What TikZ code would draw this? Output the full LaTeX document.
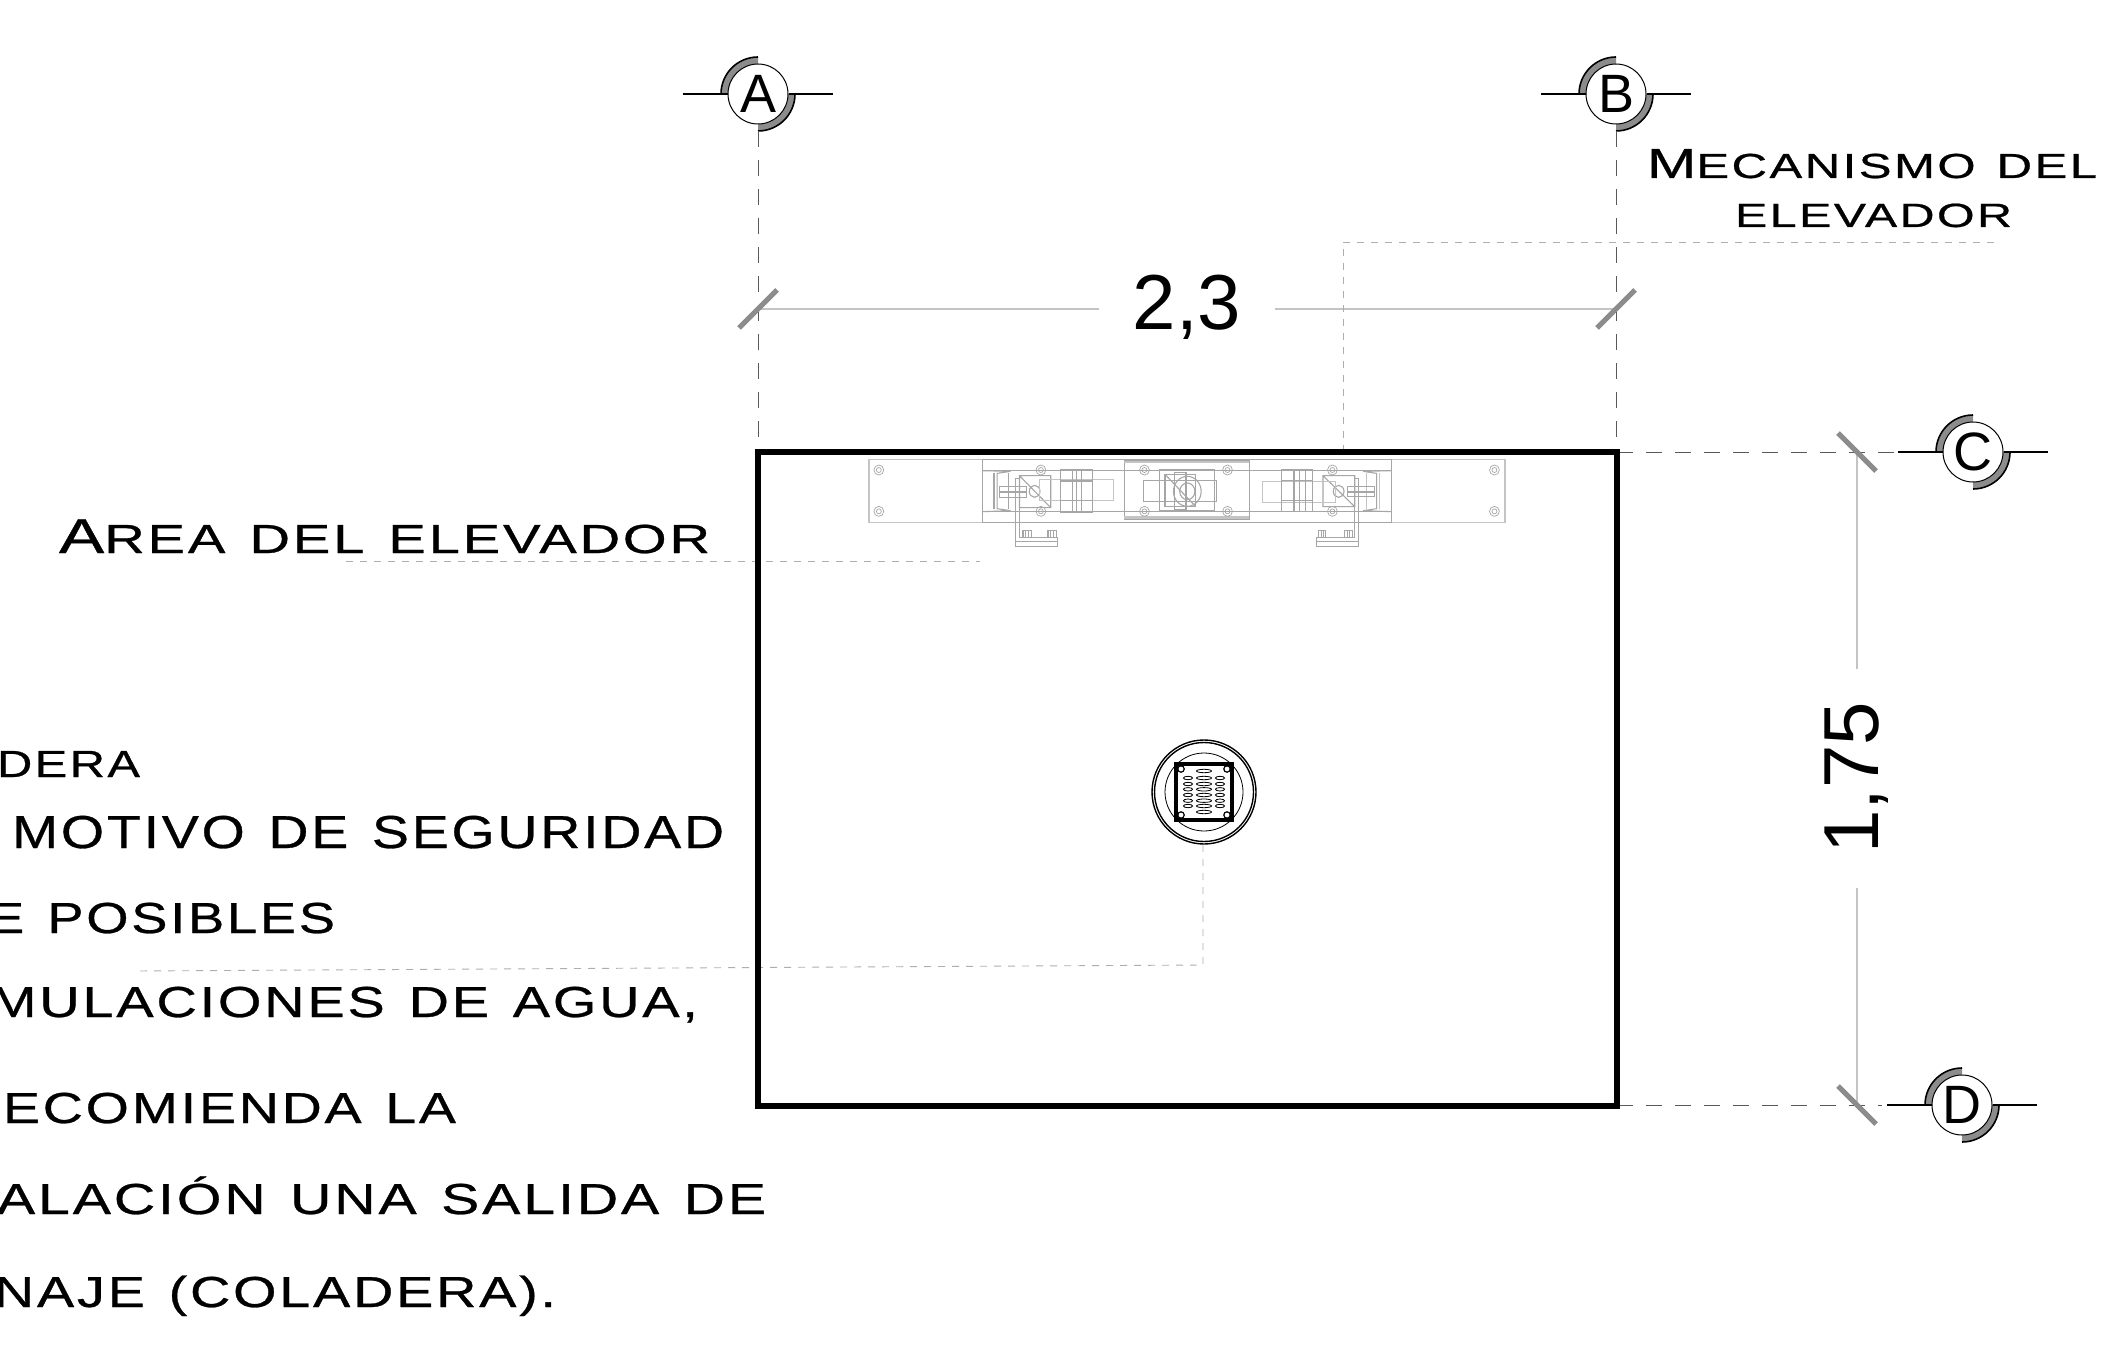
\documentclass[tikz,border=0pt]{standalone}
\usepackage{fontspec}
\usepackage{graphicx}
\setmainfont{Liberation Sans}
\newfontfamily\bankfont[LetterSpace=5,WordSpace=1.3,FakeBold=0.6]{Liberation Sans}
\definecolor{mech}{HTML}{A6A6A6}
\definecolor{mechl}{HTML}{C4C4C4}
\definecolor{tick}{HTML}{8C8C8C}
\definecolor{lead}{HTML}{AEAEAE}
% baseline-placed, exactly sized label: name, x, baseline y, width px, cap height px, text
\newcommand{\lbl}[6]{\node[lbltxt] (#1) at (#2,#3) {\resizebox{\dimexpr #4pt/2\relax}{\dimexpr #5pt/2\relax}{\rule{0pt}{10pt}\smash{\bankfont\fontsize{14}{14}\selectfont #6}}};}
\newcommand{\secmark}[4]{%
  \coordinate (#1c) at (#2,#3);
  \coordinate (#1l) at ($(#1c)+(-75,0)$);
  \coordinate (#1r) at ($(#1c)+(75,0)$);
  \fill[tick] ($(#1c)+(-37,0)$) arc[start angle=180,end angle=270,radius=37] -- ($(#1c)+(0,-30)$) arc[start angle=270,end angle=180,radius=30] -- cycle;
  \fill[tick] ($(#1c)+(37,0)$) arc[start angle=0,end angle=90,radius=37] -- ($(#1c)+(0,30)$) arc[start angle=90,end angle=0,radius=30] -- cycle;
  \draw[secarc] ($(#1c)+(-37,0)$) arc[start angle=180,end angle=270,radius=37];
  \draw[secarc] ($(#1c)+(37,0)$) arc[start angle=0,end angle=90,radius=37];
  \node[secnode] (#1) at (#1c) {#4};
  \draw[secline] (#1l) -- (#1.west);
  \draw[secline] (#1.east) -- (#1r);
}
\newcommand{\bolt}[2]{\draw[mech,line width=.35pt] (#1,#2) circle[x radius=11,y radius=15] (#1,#2) circle[x radius=5.5,y radius=7.5];}
\usetikzlibrary{calc}
\tikzset{
  lbltxt/.style={anchor=base west,inner sep=0pt,outer sep=0pt,text=black},
  secnode/.style={circle,draw=black,line width=.5pt,fill=white,minimum size=30pt,inner sep=0pt,font=\fontsize{27}{27}\selectfont},
  secarc/.style={black,line width=.8pt},
  secline/.style={black,line width=.9pt},
  refline/.style={black!65,line width=.5pt,dash pattern=on 8pt off 6.5pt},
  leaderline/.style={lead,line width=.45pt,dash pattern=on 3.5pt off 3.5pt},
  dimline/.style={mechl,line width=.9pt},
  ticksty/.style={tick,line width=2.6pt},
  wall/.style={black,line width=3.2pt,miter limit=10},
  dimtxt/.style={inner sep=0pt,font=\fontsize{39}{39}\selectfont},
  mechline/.style={mech,line width=.55pt},
  mechlight/.style={mechl,line width=.7pt},
}
\begin{document}
\begin{tikzpicture}[x=0.5pt,y=-0.5pt]
\useasboundingbox[fill=white] (0,0) rectangle (2120,1348);

% reference coordinates
\coordinate (wNW) at (758,452);
\coordinate (wNE) at (1617,452);
\coordinate (wSE) at (1617,1106);
\coordinate (wSW) at (758,1106);

% section markers
\secmark{A}{758}{94}{A}
\secmark{B}{1616}{94}{B}
\secmark{C}{1973}{452}{C}
\secmark{D}{1962}{1105}{D}

% dashed reference lines
\draw[refline] (758,131) -- (758,452);
\draw[refline] (1616,131) -- (1616,452);
\draw[refline] (1617,452) -- (1898,452);
\draw[refline] (1617,1105) -- (1882,1105);

% dimensions
\coordinate (hL) at (758,309);
\coordinate (hR) at (1616,309);
\coordinate (vT) at (1857,452);
\coordinate (vB) at (1857,1105);
\node[dimtxt] (d23) at (1187,307) {2,3};
\node[dimtxt,rotate=90] (d175) at (1857,778) {1,75};
\draw[dimline] (hL) -- (1099,309);
\draw[dimline] (1275,309) -- (hR);
\draw[dimline] (vT) -- (1857,669);
\draw[dimline] (1857,888) -- (vB);
\draw[ticksty] ($(hL)+(-19,19)$) -- ($(hL)+(19,-19)$);
\draw[ticksty] ($(hR)+(-19,19)$) -- ($(hR)+(19,-19)$);
\draw[ticksty] ($(vT)+(-19,-19)$) -- ($(vT)+(19,19)$);
\draw[ticksty] ($(vB)+(-19,-19)$) -- ($(vB)+(19,19)$);

% leaders
\coordinate (l1a) at (1343,452);
\coordinate (l1b) at (1343,242);
\coordinate (l1c) at (1997,242);
\draw[leaderline] (l1a) -- (l1b) -- (l1c);
\coordinate (l2a) at (346,561);
\coordinate (l2b) at (980,561);
\draw[leaderline] (l2a) -- (l2b);
\coordinate (l3a) at (1203,845);
\coordinate (l3b) at (1203,965);
\coordinate (l3c) at (135,971);
\draw[leaderline] (l3a) -- (l3b) -- (l3c);

% elevator area
\draw[wall] (wNW) -- (wNE) -- (wSE) -- (wSW) -- cycle;

% mechanism, in crop units
\begin{scope}[shift={(840,430)},x=0.2232pt,y=-0.1667pt]
\draw[mechlight] (65,88) rectangle (1490,277);
\draw[mechline] (319,88) rectangle (1235,277);
\draw[mechline] (319,122) -- (1235,122) (319,245) -- (1235,245);
\draw[mechline] (637,92) rectangle (917,268);
\fill[mechl] (637,92) rectangle (917,98);
\fill[mechl] (637,258) rectangle (917,268);
\foreach \p/\q in {87/120,87/244,1466/120,1466/244,450/120,450/244,682/120,682/244,868/120,868/244,1103/120,1103/244}{\bolt{\p}{\q}}
% I-beams
\draw[mechline] (319,122) -- (382,124) -- (352,130) -- (352,236) -- (382,242) -- (319,245);
\draw[mechline] (345,130) -- (345,236) (378,130) -- (378,236);
\draw[mechline] (1235,122) -- (1172,124) -- (1202,130) -- (1202,236) -- (1172,242) -- (1235,245);
\draw[mechlight] (1179,130) -- (1179,236) (1208,130) -- (1208,236);
% left unit
\draw[mechline] (402,137) rectangle (472,233) (402,137) -- (472,233);
\draw[mechline] (436,184) circle[x radius=12,y radius=18];
\draw[mechline] (358,170) rectangle (417,202) (358,186) -- (417,186);
\draw[mechlight] (447,148) rectangle (612,211);
\draw[mechline] (494,118) rectangle (566,247);
\draw[mechline] (520,118) -- (520,247) (530,118) -- (530,247) (541,118) -- (541,247) (494,153) -- (566,153) (494,211) -- (566,211);
\draw[mechline] (402,145) -- (393,145) -- (393,350) -- (487,350) -- (487,322) -- (402,322) -- (402,145) (393,335) -- (487,335);
\draw[mechline] (410,302) rectangle (428,322) (416,302) -- (416,322) (422,302) -- (422,322);
\draw[mechline] (466,302) rectangle (484,322) (472,302) -- (472,322) (478,302) -- (478,322);
% right unit
\draw[mechline] (1082,137) rectangle (1153,230) (1082,137) -- (1153,230);
\draw[mechline] (1117,184) circle[x radius=12,y radius=18];
\draw[mechline] (1137,170) rectangle (1198,200) (1137,186) -- (1198,186);
\draw[mechlight] (947,155) rectangle (1110,217);
\draw[mechline] (989,118) rectangle (1059,245);
\draw[mechline] (1017,118) -- (1017,245) (1030,118) -- (1030,245) (1042,118) -- (1042,245) (989,151) -- (1059,151) (989,211) -- (1059,211);
\draw[mechline] (1153,145) -- (1162,145) -- (1162,350) -- (1067,350) -- (1067,322) -- (1153,322) -- (1153,145) (1067,335) -- (1162,335);
\draw[mechline] (1072,302) rectangle (1088,322) (1078,302) -- (1078,322) (1083,302) -- (1083,322);
\draw[mechline] (1131,302) rectangle (1147,322) (1137,302) -- (1137,322) (1142,302) -- (1142,322);
% centre unit
\draw[mechline] (716,118) rectangle (839,243);
\draw[mechline] (728,133) rectangle (797,230);
\draw[mechline] (680,151) rectangle (843,214);
\draw[mechline] (749,127) rectangle (775,238);
\draw[mechline] (778,184) circle[x radius=31,y radius=45] (778,184) circle[x radius=17,y radius=25];
\draw[mechline] (728,133) -- (797,230);
\end{scope}

% floor drain
\begin{scope}[shift={(1204,792)}]
\draw[black,line width=.7pt] (0,0) circle[radius=52];
\draw[black,line width=.7pt] (0,0) circle[radius=49.5];
\draw[black,line width=.4pt] (0,0) circle[radius=39];
\draw[black,line width=1.9pt,fill=white] (-28,-28) rectangle (28,28);
\foreach \a/\b in {-23/-23,23/-23,-23/23,23/23}{\draw[black,line width=.6pt] (\a,\b) circle[radius=3.2];}
\foreach \y in {-21,-14,-8,-2.7,3,8.7,14,20}{\draw[black,line width=.4pt] (0,\y) ellipse[x radius=7.5,y radius=1.7];}
\foreach \y in {-14,-8,-2.7,3,8.7,14}{
  \draw[black,line width=.4pt] (-16,\y) ellipse[x radius=4.6,y radius=1.7];
  \draw[black,line width=.4pt] (16,\y) ellipse[x radius=4.6,y radius=1.7];
}
\end{scope}

% labels
\lbl{tMec}{1647}{178}{450}{30}{M\fontsize{11.6}{12}\selectfont ECANISMO DEL}
\lbl{tEle}{1735}{227}{277}{24}{ELEVADOR}
\lbl{tAre}{59}{553}{651}{35}{A\fontsize{11.6}{12}\selectfont REA DEL ELEVADOR}
\lbl{t1}{-3}{777}{143}{27}{DERA}
\lbl{t2}{12}{848}{712}{33}{MOTIVO DE SEGURIDAD}
\lbl{t3}{-12}{933}{347}{31}{E POSIBLES}
\lbl{t4}{-10}{1017}{708}{31}{MULACIONES DE AGUA,}
\lbl{t5}{3}{1123}{453}{31}{ECOMIENDA LA}
\lbl{t6}{-3}{1214}{769}{31}{ALACIÓN UNA SALIDA DE}
\lbl{t7}{-6}{1307}{562}{31}{NAJE (COLADERA).}
\end{tikzpicture}
\end{document}
